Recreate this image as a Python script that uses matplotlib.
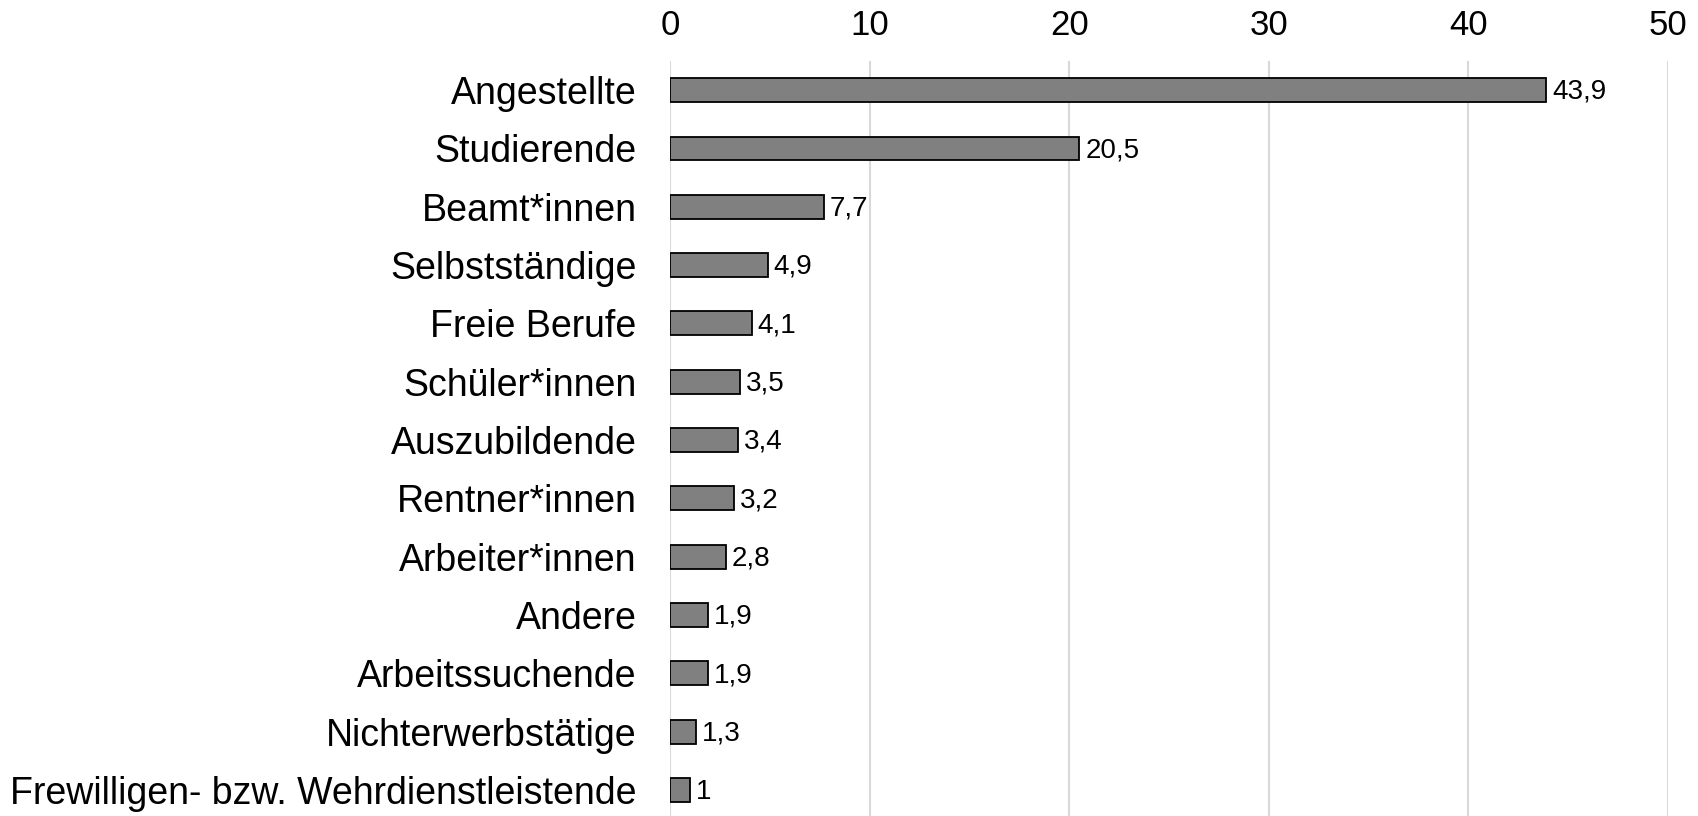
import matplotlib
matplotlib.use("Agg")
import matplotlib.pyplot as plt

categories = ["Angestellte", "Studierende", "Beamt*innen", "Selbstständige", "Freie Berufe",
              "Schüler*innen", "Auszubildende", "Rentner*innen", "Arbeiter*innen", "Andere",
              "Arbeitssuchende", "Nichterwerbstätige", "Frewilligen- bzw. Wehrdienstleistende"]
values = [43.9, 20.5, 7.7, 4.9, 4.1, 3.5, 3.4, 3.2, 2.8, 1.9, 1.9, 1.3, 1.0]
labels = ["43,9", "20,5", "7,7", "4,9", "4,1", "3,5", "3,4", "3,2", "2,8", "1,9", "1,9", "1,3", "1"]
xticks = [0, 10, 20, 30, 40, 50]

plt.rcParams['font.family'] = ['Liberation Sans', 'DejaVu Sans']

W, H = 1698, 816
fig = plt.figure(figsize=(W/100, H/100), dpi=100)
left, right, top, bottom = 670, 1668, 61, 816
ax = fig.add_axes([left/W, 1-bottom/H, (right-left)/W, (bottom-top)/H])

y = list(range(len(categories)))
ax.barh(y, values, height=0.41, color="#808080", edgecolor="black", linewidth=1.3, zorder=3)
for yi, v, lab in zip(y, values, labels):
    ax.text(v + 0.3, yi + 0.03, lab, va="center", ha="left", fontsize=20, zorder=4)

ax.set_xlim(0, 50)
ax.set_ylim(12.446, -0.5)
ax.set_xticks(xticks)
ax.set_xticklabels([str(t) for t in xticks])
ax.set_yticks(y)
ax.set_yticklabels(categories)
ax.xaxis.tick_top()
ax.tick_params(axis="x", length=0, pad=14, labelsize=25)
ax.tick_params(axis="y", length=0, pad=24, labelsize=27)
ax.grid(axis="x", color="#d9d9d9", linewidth=1.5, zorder=0)
ax.set_axisbelow(True)
for s in ax.spines.values():
    s.set_visible(False)

fig.savefig("out.png", dpi=100)
